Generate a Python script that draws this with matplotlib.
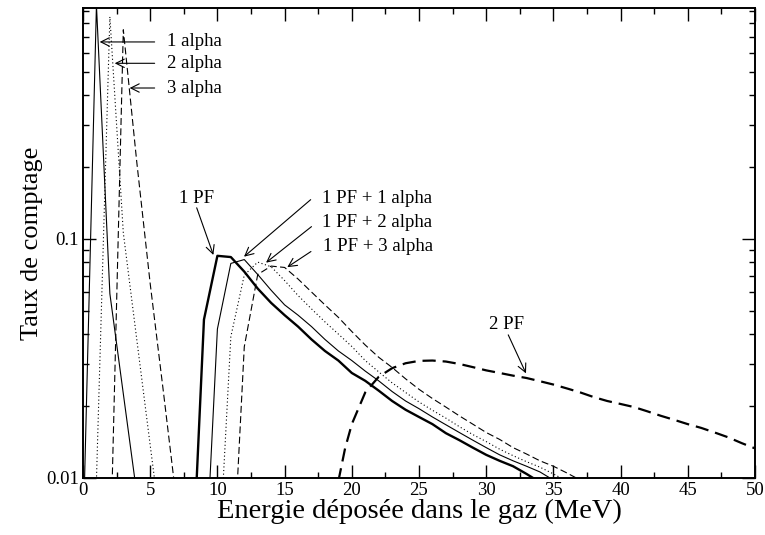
import matplotlib.pyplot as plt
import matplotlib.ticker as ticker

plt.rcParams['font.family'] = ['Liberation Serif', 'DejaVu Serif']
plt.rcParams['lines.scale_dashes'] = False

# courbes alpha seules
alpha1_x = [0, 1, 2, 3, 4]
alpha1_y = [0.0054, 0.95, 0.059, 0.0225, 0.0086]
alpha2_x = [1, 2, 3, 4, 5, 6]
alpha2_y = [0.0098, 0.85, 0.106, 0.038, 0.0137, 0.005]
alpha3_x = [2, 3, 4, 5, 6, 7]
alpha3_y = [0.0039, 0.75, 0.21, 0.065, 0.0225, 0.0076]

# 1 PF (+ n alpha), pas de 1 MeV
pf1_x = list(range(8, 35))
pf1_y = [0.0027, 0.046, 0.085, 0.084, 0.073, 0.062, 0.054, 0.048, 0.043, 0.038,
         0.034, 0.031, 0.0275, 0.0255, 0.0232, 0.021, 0.0193, 0.018, 0.0168, 0.0154,
         0.0144, 0.0134, 0.0125, 0.0118, 0.0112, 0.0104, 0.0096]
pf1a1_x = list(range(9, 36))
pf1a1_y = [0.0031, 0.042, 0.079, 0.082, 0.071, 0.061, 0.053, 0.048, 0.043, 0.038,
           0.034, 0.031, 0.028, 0.0255, 0.023, 0.021, 0.0195, 0.018, 0.0167, 0.0155,
           0.0144, 0.0134, 0.0125, 0.0118, 0.0112, 0.0106, 0.0098]
pf1a2_x = list(range(10, 37))
pf1a2_y = [0.0034, 0.039, 0.0706, 0.080, 0.0765, 0.067, 0.058, 0.051, 0.045, 0.040,
           0.0355, 0.031, 0.0278, 0.025, 0.0228, 0.0208, 0.0192, 0.0178, 0.0164, 0.0152,
           0.0142, 0.0132, 0.0124, 0.0117, 0.0111, 0.0104, 0.0097]
pf1a3_x = list(range(11, 38))
pf1a3_y = [0.0028, 0.0354, 0.071, 0.077, 0.076, 0.068, 0.060, 0.053, 0.047, 0.041,
           0.036, 0.032, 0.029, 0.026, 0.0235, 0.0215, 0.0198, 0.0182, 0.0168, 0.0155,
           0.0145, 0.0134, 0.0126, 0.0118, 0.0112, 0.0105, 0.0098]

# 2 PF
pf2_x = [19, 19.5, 20, 21, 22, 23, 24, 25, 26, 27, 28, 29, 30, 31, 32, 33, 34, 35,
         36, 37, 38, 39, 40, 41, 42, 43, 44, 45, 46, 47, 48, 49, 50]
pf2_y = [0.0097, 0.0133, 0.0168, 0.0228, 0.0265, 0.0288, 0.0302, 0.0309, 0.031, 0.0307,
         0.0300, 0.0291, 0.0282, 0.0275, 0.0268, 0.0262, 0.0254, 0.0246, 0.0237, 0.0228,
         0.0218, 0.021, 0.0204, 0.0198, 0.019, 0.0182, 0.0175, 0.0168, 0.0162, 0.0155,
         0.0148, 0.014, 0.0133]

fig = plt.figure(figsize=(7.65, 5.35), dpi=100)
ax = fig.add_axes([83/765, 57/535, 672/765, 470/535])

thin = 0.8
dot = (0, (0.8, 1.8))
dash = (0, (5.0, 2.4))

ax.plot(alpha1_x, alpha1_y, color='black', lw=thin)
ax.plot(alpha2_x, alpha2_y, color='black', lw=thin, linestyle=dot)
ax.plot(alpha3_x, alpha3_y, color='black', lw=thin, linestyle=dash)

ax.plot(pf1_x, pf1_y, color='black', lw=1.7)
ax.plot(pf1a1_x, pf1a1_y, color='black', lw=thin)
ax.plot(pf1a2_x, pf1a2_y, color='black', lw=thin, linestyle=dot)
ax.plot(pf1a3_x, pf1a3_y, color='black', lw=thin, linestyle=dash)
ax.plot(pf2_x, pf2_y, color='black', lw=1.6, linestyle=(0, (9.5, 5.0)))

ax.set_yscale('log')
ax.set_xlim(0, 50)
ax.set_ylim(0.01, 0.925)

ax.xaxis.set_major_locator(ticker.MultipleLocator(5))
ax.xaxis.set_minor_locator(ticker.MultipleLocator(2.5))
ax.yaxis.set_major_locator(ticker.FixedLocator([0.01, 0.1]))
ax.yaxis.set_major_formatter(ticker.FixedFormatter(['0.01', '0.1']))
ax.yaxis.set_minor_locator(ticker.LogLocator(base=10, subs=range(2, 10)))
ax.yaxis.set_minor_formatter(ticker.NullFormatter())

ax.tick_params(which='both', direction='in', top=True, right=True, labelsize=13.5, width=1.0)
ax.tick_params(which='major', length=9.4, pad=3)
ax.tick_params(which='minor', length=4.3)
for s in ax.spines.values():
    s.set_linewidth(1.4)

ax.set_xlabel('Energie déposée dans le gaz (MeV)', fontsize=20.5, labelpad=0)
ax.set_ylabel('Taux de comptage', fontsize=19, labelpad=2)

arr = dict(arrowstyle='->,head_length=0.6,head_width=0.3', lw=0.8, color='black',
           shrinkA=0, shrinkB=0)
fs = 13.5

# etiquettes alpha
ax.annotate('', xy=(1.24, 0.667), xytext=(5.33, 0.667), arrowprops=arr)
ax.annotate('', xy=(2.36, 0.543), xytext=(5.33, 0.543), arrowprops=arr)
ax.annotate('', xy=(3.47, 0.428), xytext=(5.33, 0.428), arrowprops=arr)
ax.text(6.25, 0.667, '1 alpha', fontsize=fs, va='center')
ax.text(6.25, 0.543, '2 alpha', fontsize=fs, va='center')
ax.text(6.25, 0.428, '3 alpha', fontsize=fs, va='center')

# etiquettes PF
ax.text(8.48, 0.147, '1 PF', fontsize=fs, va='center', ha='center')
ax.annotate('', xy=(9.7, 0.0857), xytext=(8.46, 0.135), arrowprops=arr)
ax.text(17.76, 0.147, '1 PF + 1 alpha', fontsize=fs, va='center')
ax.annotate('', xy=(11.98, 0.0843), xytext=(16.94, 0.146), arrowprops=arr)
ax.text(17.8, 0.117, '1 PF + 2 alpha', fontsize=fs, va='center')
ax.annotate('', xy=(13.62, 0.0796), xytext=(17.0, 0.1126), arrowprops=arr)
ax.text(17.88, 0.0929, '1 PF + 3 alpha', fontsize=fs, va='center')
ax.annotate('', xy=(15.2, 0.0762), xytext=(16.96, 0.0886), arrowprops=arr)
ax.text(31.5, 0.044, '2 PF', fontsize=fs, va='center', ha='center')
ax.annotate('', xy=(32.96, 0.0274), xytext=(31.64, 0.0397), arrowprops=arr)

plt.savefig('out.png', dpi=100)
